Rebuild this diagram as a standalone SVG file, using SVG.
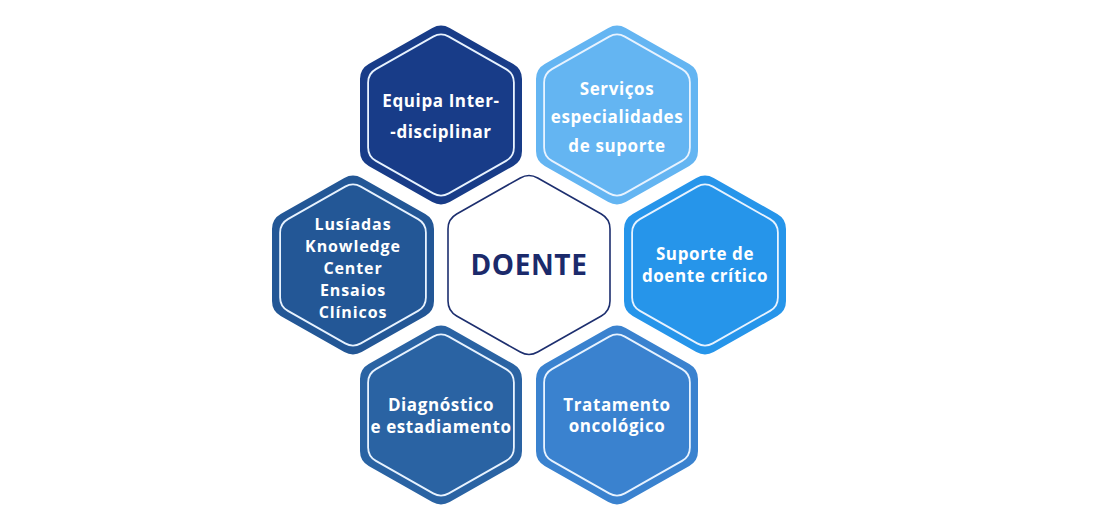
<svg xmlns="http://www.w3.org/2000/svg" width="1100" height="517" viewBox="0 0 1100 517">
  <defs>
    <path id="hex" d="M -8.70,-87.06 Q 0,-92 8.70,-87.06 L 72.30,-50.94 Q 81,-46 81,-36 L 81,36 Q 81,46 72.30,50.94 L 8.70,87.06 Q 0,92 -8.70,87.06 L -72.30,50.94 Q -81,46 -81,36 L -81,-36 Q -81,-46 -72.30,-50.94 Z"/>
    <path id="hexIn" d="M -7.83,-78.35 Q 0,-82.8 7.83,-78.35 L 65.07,-45.85 Q 72.9,-41.4 72.9,-32.4 L 72.9,32.4 Q 72.9,41.4 65.07,45.85 L 7.83,78.35 Q 0,82.8 -7.83,78.35 L -65.07,45.85 Q -72.9,41.4 -72.9,32.4 L -72.9,-32.4 Q -72.9,-41.4 -65.07,-45.85 Z"/>
  </defs>
  <style>
    .inner { fill: none; stroke: #e8f3ff; stroke-width: 1.8; }
    .lbl { font-family: "Open Sans", "Liberation Sans", sans-serif; font-weight: 700; font-size: 17px; fill: #ffffff; text-anchor: middle; letter-spacing: 0.6px; }
    .sm { font-size: 16px; letter-spacing: 0.9px; }
    .main { font-family: "Open Sans", "Liberation Sans", sans-serif; font-weight: 700; font-size: 28px; fill: #1b2a6b; text-anchor: middle; letter-spacing: 0.6px; }
  </style>
  <rect width="1100" height="517" fill="#ffffff"/>

  <g id="equipa" transform="translate(441,115)">
    <use href="#hex" fill="#183c88"/>
    <use href="#hexIn" class="inner"/>
    <text class="lbl" x="0" y="-8">Equipa Inter-</text>
    <text class="lbl" x="0" y="23">-disciplinar</text>
  </g>

  <g id="servicos" transform="translate(617,115)">
    <use href="#hex" fill="#64b5f2"/>
    <use href="#hexIn" class="inner"/>
    <text class="lbl" x="0" y="-20">Serviços</text>
    <text class="lbl" x="0" y="8">especialidades</text>
    <text class="lbl" x="0" y="37">de suporte</text>
  </g>

  <g id="lusiadas" transform="translate(353,265)">
    <use href="#hex" fill="#235796"/>
    <use href="#hexIn" class="inner"/>
    <text class="lbl sm" x="0" y="-35">Lusíadas</text>
    <text class="lbl sm" x="0" y="-13">Knowledge</text>
    <text class="lbl sm" x="0" y="9">Center</text>
    <text class="lbl sm" x="0" y="31">Ensaios</text>
    <text class="lbl sm" x="0" y="53">Clínicos</text>
  </g>

  <g id="doente" transform="translate(529,265)">
    <use href="#hex" fill="#ffffff" stroke="#1d2f6f" stroke-width="1.6"/>
    <text class="main" x="0" y="10">DOENTE</text>
  </g>

  <g id="suporte" transform="translate(705,265)">
    <use href="#hex" fill="#2695ea"/>
    <use href="#hexIn" class="inner"/>
    <text class="lbl" x="0" y="-5">Suporte de</text>
    <text class="lbl" x="0" y="17">doente crítico</text>
  </g>

  <g id="diagnostico" transform="translate(441,415)">
    <use href="#hex" fill="#2a63a3"/>
    <use href="#hexIn" class="inner"/>
    <text class="lbl" x="0" y="-4">Diagnóstico</text>
    <text class="lbl" x="0" y="18">e estadiamento</text>
  </g>

  <g id="tratamento" transform="translate(617,415)">
    <use href="#hex" fill="#3a82cf"/>
    <use href="#hexIn" class="inner"/>
    <text class="lbl" x="0" y="-4">Tratamento</text>
    <text class="lbl" x="0" y="17">oncológico</text>
  </g>
</svg>
